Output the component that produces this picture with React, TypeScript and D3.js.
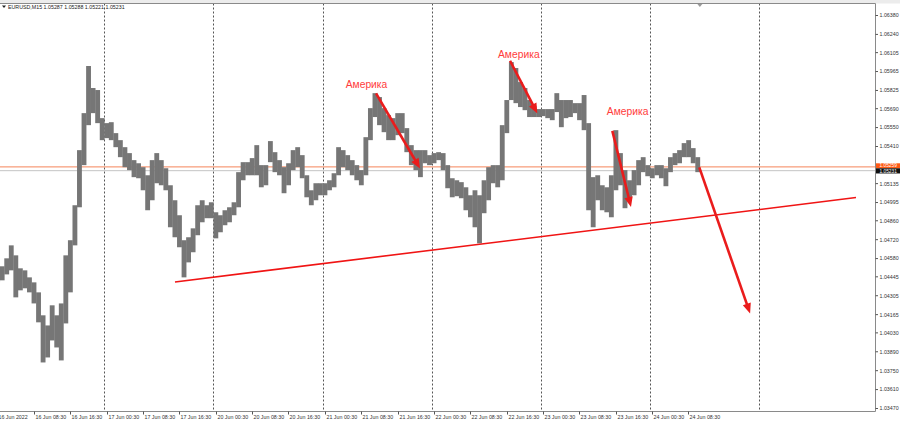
import React from "react";
import * as d3 from "d3";

// ---------- data ----------
const symbolTitle = "EURUSD,M15";
const lastOHLC = ["1.05287", "1.05288", "1.05221", "1.05231"];
const bidPrice = 1.05231;
const askPrice = 1.05259;

// trading days shown (each = 96 bars of 15 minutes)
const sessionDays = ["16 Jun", "17 Jun", "20 Jun", "21 Jun", "22 Jun", "23 Jun", "24 Jun", "27 Jun"];

// bottom axis labels: every 8 hours starting at 16 Jun 00:30
const timeLabels = [
  "16 Jun 2022", "16 Jun 08:30", "16 Jun 16:30",
  "17 Jun 00:30", "17 Jun 08:30", "17 Jun 16:30",
  "20 Jun 00:30", "20 Jun 08:30", "20 Jun 16:30",
  "21 Jun 00:30", "21 Jun 08:30", "21 Jun 16:30",
  "22 Jun 00:30", "22 Jun 08:30", "22 Jun 16:30",
  "23 Jun 00:30", "23 Jun 08:30", "23 Jun 16:30",
  "24 Jun 00:30", "24 Jun 08:30",
];

// right axis price labels (the one under the price boxes is hidden)
const priceTicks = [
  1.0638, 1.0624, 1.06105, 1.05965, 1.05825, 1.0569, 1.0555, 1.0541,
  1.05135, 1.04995, 1.0486, 1.0472, 1.0458, 1.04445, 1.04305, 1.04165, 1.0403,
  1.0389, 1.0375, 1.0361, 1.0347,
];

// hourly highs / lows from 16 Jun 00:00 to 24 Jun 10:00 (trading hours only)
const hourHigh = [
  1.04508, 1.04523, 1.04582, 1.04678, 1.04604, 1.04508, 1.04493, 1.04441, 1.04404, 1.0433,
  1.0416, 1.04085, 1.04234, 1.0416, 1.04248, 1.04604, 1.04716, 1.04975, 1.05383, 1.05657,
  1.06006, 1.05843, 1.05828, 1.0562, 1.05583, 1.0559, 1.05509, 1.05457, 1.05405, 1.05361,
  1.05309, 1.05286, 1.05257, 1.05197, 1.05309, 1.05361, 1.05309, 1.05249, 1.05123, 1.05012,
  1.04901, 1.04716, 1.04738, 1.04804, 1.04975, 1.05012, 1.04975, 1.04997, 1.04923, 1.04901,
  1.04938, 1.0496, 1.04997, 1.0522, 1.05294, 1.05294, 1.05324, 1.0542, 1.05272, 1.05272,
  1.0545, 1.05368, 1.05309, 1.05257, 1.05286, 1.05383, 1.05405, 1.05346, 1.05197, 1.05086,
  1.05138, 1.05138, 1.05138, 1.0516, 1.05212, 1.05405, 1.05383, 1.05346, 1.05309, 1.05272,
  1.05235, 1.05479, 1.05694, 1.05805, 1.05776, 1.05694, 1.05642, 1.0562, 1.05657, 1.05657,
  1.05546, 1.0542, 1.05383, 1.05383, 1.05383, 1.05346, 1.05361, 1.05368, 1.05361, 1.05272,
  1.05175, 1.0516, 1.05146, 1.05108, 1.05049, 1.05086, 1.05049, 1.0516, 1.05257, 1.05272,
  1.05272, 1.05568, 1.05754, 1.06035, 1.05991, 1.05887, 1.05843, 1.05754, 1.05709, 1.05687,
  1.05687, 1.05687, 1.05687, 1.05805, 1.05754, 1.05754, 1.05754, 1.05731, 1.05731, 1.05791,
  1.05583, 1.05183, 1.05197, 1.05123, 1.05108, 1.05197, 1.05531, 1.05361, 1.05235, 1.0516,
  1.05235, 1.05309, 1.05331, 1.05272, 1.05249, 1.05272, 1.05272, 1.05249, 1.05331, 1.05361,
  1.05383, 1.05435, 1.05457, 1.05398, 1.05331,
];
const hourLow = [
  1.04404, 1.04419, 1.04463, 1.04493, 1.04293, 1.04345, 1.0436, 1.0433, 1.04248, 1.04108,
  1.03811, 1.03848, 1.03974, 1.03922, 1.03826, 1.041, 1.0433, 1.04678, 1.0496, 1.05272,
  1.05568, 1.05657, 1.05583, 1.05457, 1.05472, 1.05457, 1.05405, 1.05331, 1.05257, 1.05235,
  1.05183, 1.05175, 1.05086, 1.04938, 1.05012, 1.05138, 1.05123, 1.05086, 1.04812, 1.04738,
  1.04664, 1.04441, 1.04552, 1.04627, 1.04753, 1.04849, 1.04879, 1.04879, 1.0473, 1.04775,
  1.04827, 1.04849, 1.04901, 1.0496, 1.0516, 1.05197, 1.05197, 1.05197, 1.05108, 1.05123,
  1.05294, 1.0522, 1.05197, 1.05064, 1.05123, 1.05235, 1.05257, 1.05175, 1.05034, 1.04975,
  1.05012, 1.05049, 1.05049, 1.05086, 1.05108, 1.05197, 1.05257, 1.05235, 1.05197, 1.0516,
  1.05123, 1.05197, 1.05457, 1.05628, 1.05568, 1.05516, 1.05457, 1.05457, 1.05494, 1.05509,
  1.05368, 1.05272, 1.05235, 1.05183, 1.05286, 1.05272, 1.05286, 1.05309, 1.05235, 1.05101,
  1.05034, 1.05042, 1.05027, 1.04938, 1.04886, 1.04812, 1.04693, 1.04916, 1.05012, 1.05138,
  1.05108, 1.0516, 1.05509, 1.05754, 1.05731, 1.05702, 1.05679, 1.05628, 1.05628, 1.05628,
  1.05635, 1.0562, 1.05605, 1.05665, 1.05553, 1.0562, 1.05628, 1.05657, 1.05605, 1.05531,
  1.04938, 1.04812, 1.05012, 1.04938, 1.04923, 1.04886, 1.05086, 1.05123, 1.04953, 1.05012,
  1.05049, 1.05123, 1.0522, 1.0519, 1.05175, 1.05197, 1.05175, 1.05116, 1.0522, 1.05272,
  1.05286, 1.05331, 1.05331, 1.05286, 1.0522,
];

// drawing objects (t = 15-minute bar index from 16 Jun 00:00, p = price)
const trendLine = [
  { t: 158.2, p: 1.04407 },
  { t: 757.4, p: 1.05032 },
];
const arrows = [
  { t1: 335.1, p1: 1.05803, t2: 373.8, p2: 1.05247 },
  { t1: 453.0, p1: 1.06045, t2: 477.0, p2: 1.05655 },
  { t1: 543.0, p1: 1.05526, t2: 559.4, p2: 1.04962 },
  { t1: 619.5, p1: 1.05255, t2: 664.2, p2: 1.04174 },
];
const notes = [
  { t: 308.4, p: 1.05842, text: "Америка" },
  { t: 442.4, p: 1.06069, text: "Америка" },
  { t: 538.1, p: 1.05642, text: "Америка" },
];

// ---------- layout ----------
const W = 900;
const H = 424;
const plotRight = 875;
const plotTop = 3.5;
const plotBottom = 411.5;
const BARS_PER_DAY = 96;
const BARS_PER_HOUR = 4;
const LABEL_STEP = 32;
const FONT = "'Liberation Sans', Arial, sans-serif";

export default function App() {
  const x = d3.scaleLinear().domain([4.223, 774.1]).range([0, plotRight]);
  const y = d3.scaleLinear().domain([1.0347, 1.0638]).range([408.5, 15.5]);
  const fmt = d3.format(".5f");

  const bars = hourHigh.map((hi, i) => ({ i, hi, lo: hourLow[i] }));

  const arrowHead = (a: { t1: number; p1: number; t2: number; p2: number }) => {
    const x1 = x(a.t1), y1 = y(a.p1), x2 = x(a.t2), y2 = y(a.p2);
    const ang = Math.atan2(y2 - y1, x2 - x1);
    const len = 10, half = 4.2;
    const bx = x2 - len * Math.cos(ang), by = y2 - len * Math.sin(ang);
    const px = -Math.sin(ang) * half, py = Math.cos(ang) * half;
    return {
      line: { x1, y1, x2: bx + Math.cos(ang), y2: by + Math.sin(ang) },
      head: `${x2},${y2} ${bx + px},${by + py} ${bx - px},${by - py}`,
    };
  };

  const endX = x(bars.length * BARS_PER_HOUR);

  return (
    <svg
      width={W}
      height={H}
      style={{ position: "fixed", left: 0, top: 0, background: "#fff" }}
      fontFamily={FONT}
    >
      <defs>
        <clipPath id="plotClip">
          <rect x={0} y={plotTop} width={plotRight} height={plotBottom - plotTop} />
        </clipPath>
      </defs>
      <rect x={0} y={0} width={W} height={H} fill="#fff" />
      <rect x={0} y={0} width={W} height={plotTop} fill="#ececec" />

      <g clipPath="url(#plotClip)">
        {/* day separators */}
        {sessionDays.slice(1).map((d, k) => (
          <line
            key={d}
            x1={Math.round(x((k + 1) * BARS_PER_DAY)) + 0.5}
            x2={Math.round(x((k + 1) * BARS_PER_DAY)) + 0.5}
            y1={plotTop}
            y2={plotBottom}
            stroke="#555"
            strokeWidth={1}
            strokeDasharray="2,2"
          />
        ))}

        {/* ask / bid lines */}
        <line x1={0} x2={plotRight} y1={y(askPrice)} y2={y(askPrice)} stroke="#f5845a" strokeWidth={1} />
        <line x1={0} x2={plotRight} y1={y(bidPrice)} y2={y(bidPrice)} stroke="#c4c4c4" strokeWidth={1} />

        {/* price bars */}
        {bars.map((b) => (
          <rect
            key={b.i}
            x={x(b.i * BARS_PER_HOUR)}
            width={x((b.i + 1) * BARS_PER_HOUR) - x(b.i * BARS_PER_HOUR) + 0.3}
            y={y(b.hi)}
            height={Math.max(1, y(b.lo) - y(b.hi))}
            fill="#767676"
          />
        ))}

        {/* trend line */}
        <line
          x1={x(trendLine[0].t)}
          y1={y(trendLine[0].p)}
          x2={x(trendLine[1].t)}
          y2={y(trendLine[1].p)}
          stroke="#f01414"
          strokeWidth={1.6}
        />

        {/* arrows */}
        {arrows.map((a, i) => {
          const g = arrowHead(a);
          return (
            <g key={i}>
              <line {...g.line} stroke="#ea1c1c" strokeWidth={2.6} />
              <polygon points={g.head} fill="#ea1c1c" />
            </g>
          );
        })}

        {/* notes */}
        {notes.map((n, i) => (
          <text key={i} x={x(n.t)} y={y(n.p)} fontSize={10.3} fill="#ff3c3c">
            {n.text}
          </text>
        ))}
      </g>

      {/* frame */}
      <line x1={0} x2={plotRight + 0.5} y1={plotTop} y2={plotTop} stroke="#8a8a8a" />
      <line x1={plotRight + 0.5} x2={plotRight + 0.5} y1={plotTop} y2={plotBottom} stroke="#8a8a8a" />
      <line x1={0} x2={plotRight + 0.5} y1={plotBottom} y2={plotBottom} stroke="#8a8a8a" />

      {/* shift marker */}
      <polygon
        points={`${endX - 2.5},${plotTop + 0.5} ${endX + 2.5},${plotTop + 0.5} ${endX},${plotTop + 3.5}`}
        fill="#9a9a9a"
      />

      {/* header */}
      <polygon points="2,5.5 6,5.5 4,8" fill="#222" />
      <text x={8} y={8.8} fontSize={5.3} fill="#222">
        {`${symbolTitle}  ${lastOHLC.join(" ")}`}
      </text>

      {/* right price axis */}
      {priceTicks.map((p) => (
        <g key={p}>
          <line x1={plotRight + 0.5} x2={plotRight + 3} y1={y(p)} y2={y(p)} stroke="#555" />
          <text x={plotRight + 4.5} y={y(p) + 1.9} fontSize={5.3} fill="#333">
            {fmt(p)}
          </text>
        </g>
      ))}
      {/* current price boxes */}
      <rect x={plotRight + 1} y={y(askPrice) - 3.6} width={24} height={5} fill="#ff5a14" />
      <text x={plotRight + 4.5} y={y(askPrice) + 0.4} fontSize={4.8} fill="#fff">
        {fmt(askPrice)}
      </text>
      <rect x={plotRight + 1} y={y(bidPrice) - 2.4} width={24} height={5.2} fill="#111" />
      <text x={plotRight + 4.5} y={y(bidPrice) + 1.9} fontSize={4.8} fill="#fff">
        {fmt(bidPrice)}
      </text>

      {/* bottom time axis */}
      {timeLabels.map((lab, i) => {
        const xx = Math.round(x(2 + i * LABEL_STEP)) + 0.5;
        return (
          <g key={lab}>
            <line x1={xx} x2={xx} y1={plotBottom} y2={plotBottom + 3} stroke="#555" />
            <text x={xx + 1} y={418.5} fontSize={5.3} fill="#333">
              {lab}
            </text>
          </g>
        );
      })}
    </svg>
  );
}
